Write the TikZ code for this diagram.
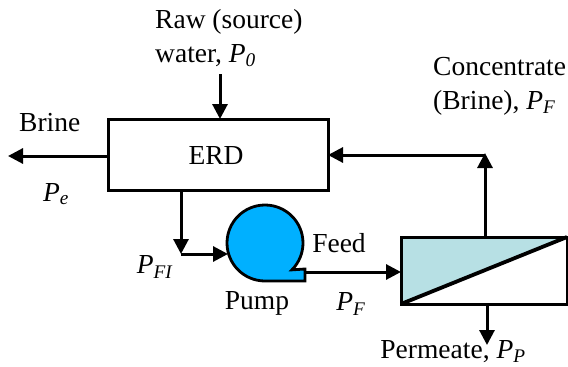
\documentclass[tikz,border=0pt]{standalone}
\usepackage{fontspec}
\setmainfont{Liberation Serif}
\usepackage{tikz}
\usetikzlibrary{arrows.meta}
\definecolor{pumpblue}{RGB}{0,176,255}
\definecolor{membrane}{RGB}{183,224,228}
\newcommand{\psub}[2]{\textit{#1}\textsubscript{\textit{#2}}}
\tikzstyle{txt} = [inner sep=0pt, font=\fontsize{27.5}{34}\selectfont]
\tikzstyle{unit} = [rectangle, draw=black, line width=3pt, inner sep=0pt, outer sep=0pt]
\tikzstyle{arrow} = [line width=3pt, -{Triangle[length=15pt,width=15pt]}]

\begin{document}
\begin{tikzpicture}[x=1pt, y=-1pt]
\useasboundingbox (0,0) rectangle (568,367);
\node(erd) [unit, minimum width=220pt, minimum height=71pt, anchor=north west] at (108,119) {};
\node(erdtxt) [txt] at (216,156) {ERD};
\node(mem) [unit, minimum width=166pt, minimum height=67pt, anchor=north west] at (401,237) {};
\fill[membrane] (mem.south west) -- (mem.north west) -- (mem.north east) -- cycle;
\node(mem) [unit, minimum width=166pt, minimum height=67pt, anchor=north west] at (401,237) {};
\draw[line width=3.8pt] (mem.south west) -- (mem.north east);
\draw[fill=pumpblue, line width=2.8pt] (265,281) arc[start angle=270, end angle=-45, radius=38pt] -- (305,269) -- (305,281) -- cycle;
\coordinate(pumpout) at (305,272);
\coordinate(pumpin) at (228,254);
\coordinate(rawtop) at (220,74);
\coordinate(rawend) at (220,119);
\coordinate(brineend) at (8,156);
\coordinate(erdout) at (181,190);
\coordinate(bend) at (181,254);
\coordinate(memout) at (485,237);
\coordinate(tee) at (485,153);
\coordinate(erdin) at (328,155);
\coordinate(permtop) at (487,304);
\coordinate(permend) at (487,345);
\draw[arrow] (rawtop) -- (rawend);
\draw[arrow] (erd.west |- brineend) -- (brineend);
\draw[arrow] (erdout) -- (bend);
\draw[arrow] (bend) -- (pumpin);
\draw[arrow] (pumpout) -- (mem.west |- pumpout);
\draw[arrow] (memout) -- (tee);
\draw[arrow] (tee |- erdin) -- (erdin);
\draw[arrow] (permtop) -- (permend);
\node(raw) [txt, align=left, anchor=north west] at (155,9) {Raw (source)\\water, \psub{P}{0}};
\node(conc) [txt, align=left, anchor=north west] at (433,57) {Concentrate\\(Brine), \psub{P}{F}};
\node(brine) [txt, anchor=west] at (19,123) {Brine};
\node(pe) [txt] at (56,194) {\psub{P}{e}};
\node(pfi) [txt] at (155,267) {\psub{P}{FI}};
\node(pumptxt) [txt] at (257,303) {Pump};
\node(feed) [txt] at (339,243) {Feed};
\node(pf) [txt] at (351,304) {\psub{P}{F}};
\node(perm) [txt] at (453,352) {Permeate, \psub{P}{P}};
\end{tikzpicture}
\end{document}
